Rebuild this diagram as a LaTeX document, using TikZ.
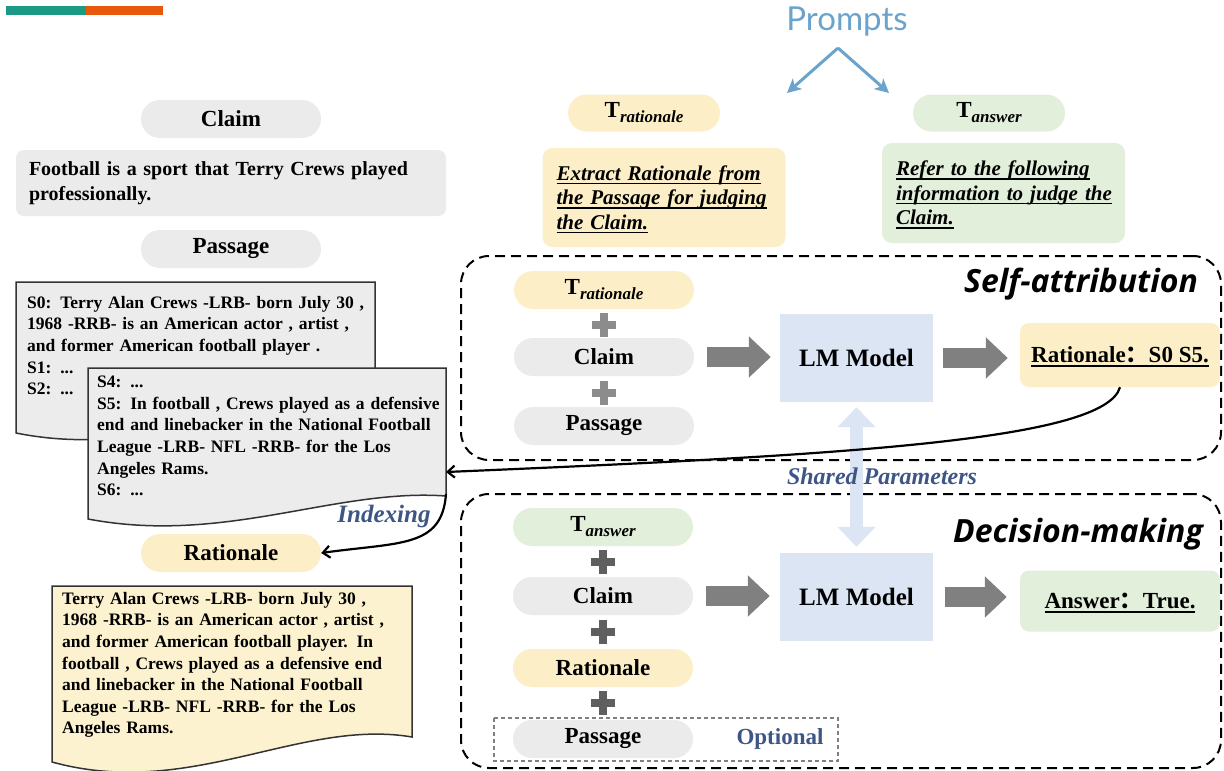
\documentclass[tikz,border=0pt]{standalone}
\usepackage{fontspec}
\setmainfont{Liberation Serif}
\newfontfamily\headsans{Open Sans}
\newfontfamily\promptfont{Lato}
\newfontfamily\cjkfont{Noto Sans CJK SC}
\usetikzlibrary{shapes.misc,arrows.meta}

\definecolor{pillgray}{HTML}{EBEBEB}
\definecolor{pillyellow}{HTML}{FCEFC8}
\definecolor{pillgreen}{HTML}{E2EFDA}
\definecolor{lmblue}{HTML}{DCE5F4}
\definecolor{fatgray}{HTML}{808080}
\definecolor{plusa}{HTML}{8C8C8C}
\definecolor{plusb}{HTML}{5F5F5F}
\definecolor{docgray}{HTML}{ECECEC}
\definecolor{doccream}{HTML}{FDF2CF}
\definecolor{labelblue}{HTML}{3E5686}
\definecolor{promptblue}{HTML}{6AA3CC}
\definecolor{tealbar}{HTML}{1A9985}
\definecolor{orangebar}{HTML}{E8580C}

\newcommand\fsz[2]{\fontsize{#1}{#2}\selectfont}
\newcommand\Tsub[1]{\textbf{T}\raisebox{-5pt}{\fsz{17}{17}\itshape #1}}
\newcommand\jline[1]{\makebox[\linewidth][s]{#1}}
% underline at a fixed distance below the baseline, not adding depth
\newsavebox\ulbox
\newcommand\uln[1]{\leavevmode\sbox\ulbox{#1}%
  \rlap{\smash{\rule[-4pt]{\wd\ulbox}{1.4pt}}}\usebox\ulbox}

\begin{document}
\begin{tikzpicture}[x=1pt,y=-1pt,
  pill/.style={rounded rectangle, minimum width=180pt, minimum height=38pt,
    inner sep=0pt, font=\fsz{23}{23}\bfseries},
  gpill/.style={pill, fill=pillgray},
  ypill/.style={pill, fill=pillyellow},
  grpill/.style={pill, fill=pillgreen},
  promptbox/.style={rounded corners=10pt, inner xsep=14pt, inner ysep=0pt,
    align=left, text width=215pt, minimum height=99pt,
    font=\fsz{21}{24.5}\bfseries\itshape},
  lmbox/.style={fill=lmblue, minimum width=153pt, minimum height=88pt,
    inner sep=0pt, font=\fsz{25}{25}\bfseries},
  outbox/.style={rounded corners=9pt, minimum width=200pt, inner sep=0pt,
    font=\fsz{23}{23}\bfseries},
  fat/.style={line width=20pt, fatgray, -{Triangle[width=40pt,length=22pt]}},
  shared/.style={line width=13pt, lmblue,
    {Triangle[width=37pt,length=20pt]}-{Triangle[width=37pt,length=20pt]}},
  stagebox/.style={draw, line width=2pt, dash pattern=on 10pt off 6pt,
    rounded corners=28pt, minimum width=760pt, inner sep=0pt},
  doctext/.style={anchor=north west, inner sep=0pt, align=left,
    text width=#1, font=\fsz{17.5}{21.6}\bfseries},
  docshape/.style={line width=1.5pt, draw={black!80}},
  link/.style={line width=2.2pt, -{Straight Barb[length=7pt,width=12pt]}},
  promptarrow/.style={line width=3pt, promptblue,
    -{Stealth[length=14pt,width=14pt,inset=4pt]}},
  bluelabel/.style={labelblue, font=\fsz{24}{24}\bfseries\itshape},
  title/.style={font=\headsans\bfseries\itshape\fsz{32}{32}},
  plussign/.pic={\fill (-12,-4) rectangle (12,4); \fill (-4,-12) rectangle (4,12);}
]
\useasboundingbox (0,0) rectangle (1224,771);
\fill[white] (0,0) rectangle (1224,771);

% header bars
\fill[tealbar] (6,6) rectangle (86,15);
\fill[orangebar] (86,6) rectangle (163,15);

% ---------------- left column ----------------
\node[gpill] (claimL) at (231,119) {Claim};
\node[fill=pillgray, rounded corners=8pt, minimum width=430pt, minimum height=66pt,
  inner xsep=13pt, inner ysep=0pt, text width=404pt, align=left,
  font=\fsz{20}{25}\bfseries] (claimtext) at (231,183)
  {\jline{Football is a sport that Terry Crews played}\\professionally.};
\node[gpill] (passL) at (231,249) {Passage};

% passage pages
\filldraw[docshape, fill=docgray] (16,282) -- (375,282) -- (375,410)
  .. controls (250,395) and (150,460) .. (16,433) -- cycle;
\node[doctext=341pt] (page1) at (27,296)
  {\jline{S0: Terry Alan Crews -LRB- born July 30 ,}\\
   \jline{1968 -RRB- is an American actor , artist ,}\\
   and former American football player .\\
   S1: ...\\
   S2: ...};
\filldraw[docshape, fill=docgray] (88,368) -- (446,368) -- (446,496)
  .. controls (335,488) and (225,545) .. (88,519) -- cycle;
\node[doctext=339pt] (page2) at (97,376)
  {S4: ...\\
   \jline{S5: In football , Crews played as a defensive}\\
   \jline{end and linebacker in the National Football}\\
   \jline{League -LRB- NFL -RRB- for the Los}\\
   Angeles Rams.\\
   S6: ...};
\coordinate (page2in) at (446,472);
\coordinate (page2corner) at (446,494);

\node[bluelabel, font=\fsz{25}{25}\bfseries\itshape] (indexing) at (384,516) {Indexing};
\node[ypill] (ratL) at (231,553) {Rationale};

% rationale page
\filldraw[docshape, fill=doccream] (52,586) -- (412,586) -- (412,737)
  .. controls (300,718) and (190,800) .. (52,762) -- cycle;
\node[doctext=340pt] (ratpage) at (62,592)
  {\jline{Terry Alan Crews -LRB- born July 30 ,}\\
   \jline{1968 -RRB- is an American actor , artist ,}\\
   \jline{and former American football player. In}\\
   \jline{football , Crews played as a defensive end}\\
   \jline{and linebacker in the National Football}\\
   \jline{League -LRB- NFL -RRB- for the Los}\\
   Angeles Rams.};

% ---------------- prompts ----------------
\node[promptblue, font=\promptfont\fsz{33}{33}] (prompts) at (847,22) {Prompts};
\coordinate (apex) at (838,48);
\coordinate (toRat) at (787,93);
\coordinate (toAns) at (889,93);
\draw[promptarrow] (apex) -- (toRat);
\draw[promptarrow] (apex) -- (toAns);

\node[ypill, minimum width=152pt, minimum height=37pt] (Trat) at (644,113) {\Tsub{rationale}};
\node[grpill, minimum width=152pt, minimum height=37pt] (Tans) at (989,113) {\Tsub{answer}};

\node[promptbox, fill=pillyellow, minimum width=242pt] (ratprompt) at (664,197.5)
  {\uln{Extract Rationale from}\\\uln{the Passage for judging}\\\uln{the Claim.}};
\node[promptbox, fill=pillgreen, minimum width=243pt, minimum height=100pt] (ansprompt) at (1003.5,193)
  {\uln{Refer to the following}\\\uln{information to judge the}\\\uln{Claim.}};

% ---------------- self-attribution stage ----------------
\node[stagebox, minimum height=204pt] (selfstage) at (841,358) {};
\node[title] (selftitle) at (1081,284) {Self-attribution};

\node[ypill] (sT) at (604,290) {\Tsub{rationale}};
\pic[plusa] at (604,325) {plussign};
\node[gpill] (sClaim) at (604,357) {Claim};
\pic[plusa] at (604,393) {plussign};
\node[gpill] (sPass) at (604,426) {Passage};

\node[lmbox] (lm1) at (856.5,358) {LM Model};
\node[outbox, fill=pillyellow, minimum height=64pt] (ratout) at (1120,355)
  {\uln{Rationale{\cjkfont ：}S0 S5.}};

\draw[fat, shorten <=13pt, shorten >=9pt] (sClaim.east) -- (sClaim.east -| lm1.west);
\draw[fat, shorten <=10pt, shorten >=12pt] (lm1.east) -- (lm1.east -| ratout.west);

% ---------------- decision-making stage ----------------
\node[stagebox, minimum height=274pt] (decstage) at (841,631) {};
\node[title] (dectitle) at (1078,534) {Decision-making};

\draw[gray, line width=1.2pt, dash pattern=on 4pt off 3pt] (494,718) rectangle (838,761);
\node[grpill] (dT) at (603,527) {\Tsub{answer}};
\pic[plusb] at (603,562) {plussign};
\node[gpill] (dClaim) at (603,596) {Claim};
\pic[plusb] at (603,632) {plussign};
\node[ypill] (dRat) at (603,668) {Rationale};
\pic[plusb] at (603,703) {plussign};
\node[gpill] (dPass) at (603,739) {Passage};
\node[labelblue, font=\fsz{23}{23}\bfseries] (optional) at (780,739) {Optional};

\node[lmbox] (lm2) at (856.5,597) {LM Model};
\node[outbox, fill=pillgreen, minimum height=61pt] (ansout) at (1120,601)
  {\uln{Answer{\cjkfont ：}True.}};

\draw[fat, shorten <=13pt, shorten >=10pt] (dClaim.east) -- (dClaim.east -| lm2.west);
\draw[fat, shorten <=12pt, shorten >=13pt] (lm2.east) -- (lm2.east -| ansout.west);

% shared parameters between the two model boxes
\draw[shared, shorten <=5pt, shorten >=6pt] (lm1.south) -- (lm2.north);
\node[bluelabel] (sharedlbl) at (882,476) {Shared Parameters};

% rationale indices are used to index the passage
\draw[link] (ratout.south) .. controls (1105,440) and (850,455) .. (page2in);
\draw[link] (page2corner) .. controls (442,548) and (400,542) .. (ratL.east);
\end{tikzpicture}
\end{document}
